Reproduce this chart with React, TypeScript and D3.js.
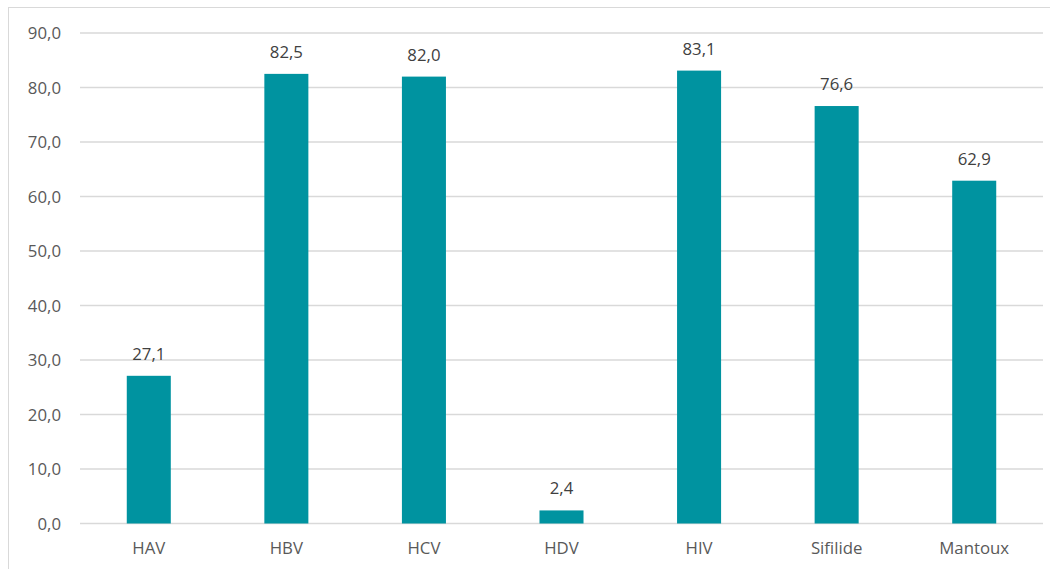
import React from "react";
import * as d3 from "d3";

const categories = ["HAV", "HBV", "HCV", "HDV", "HIV", "Sifilide", "Mantoux"];
const values = [27.1, 82.5, 82.0, 2.4, 83.1, 76.6, 62.9];
const yTicks = [0, 10, 20, 30, 40, 50, 60, 70, 80, 90];

const fmt = (v: number) => v.toFixed(1).replace(".", ",");

export default function App() {
  const W = 1050, H = 569;
  const left = 80, right = 1043, top = 33, bottom = 523.5;
  const x = d3.scaleBand<string>().domain(categories).range([left, right]).paddingInner(0.68).paddingOuter(0.34);
  const y = d3.scaleLinear().domain([0, 90]).range([bottom, top]);
  const font = "'Open Sans', 'Noto Sans', sans-serif";
  const fs = 16.8;
  return (
    <svg width={W} height={H} style={{ position: "absolute", left: 0, top: 0 }}>
      <rect x={0} y={0} width={W} height={H} fill="#fff" />
      <rect x={8.5} y={7.5} width={W + 20} height={H + 20} fill="none" stroke="#d9d9d9" strokeWidth={1} />
      {yTicks.map((t) => (
        <g key={t}>
          <line x1={left} x2={right} y1={y(t)} y2={y(t)} stroke="#d9d9d9" strokeWidth={1.3} />
          <text x={61} y={y(t)} dy="0.36em" textAnchor="end" fontFamily={font} fontSize={fs} fill="#595959">
            {fmt(t)}
          </text>
        </g>
      ))}
      {categories.map((c, i) => (
        <g key={c}>
          <rect x={x(c)} y={y(values[i])} width={x.bandwidth()} height={bottom - y(values[i])} fill="#0093a0" />
          <text x={(x(c) as number) + x.bandwidth() / 2} y={y(values[i]) - 16} textAnchor="middle" fontFamily={font} fontSize={fs} fill="#404040">
            {fmt(values[i])}
          </text>
          <text x={(x(c) as number) + x.bandwidth() / 2} y={554} textAnchor="middle" fontFamily={font} fontSize={fs} fill="#595959">
            {c}
          </text>
        </g>
      ))}
    </svg>
  );
}
